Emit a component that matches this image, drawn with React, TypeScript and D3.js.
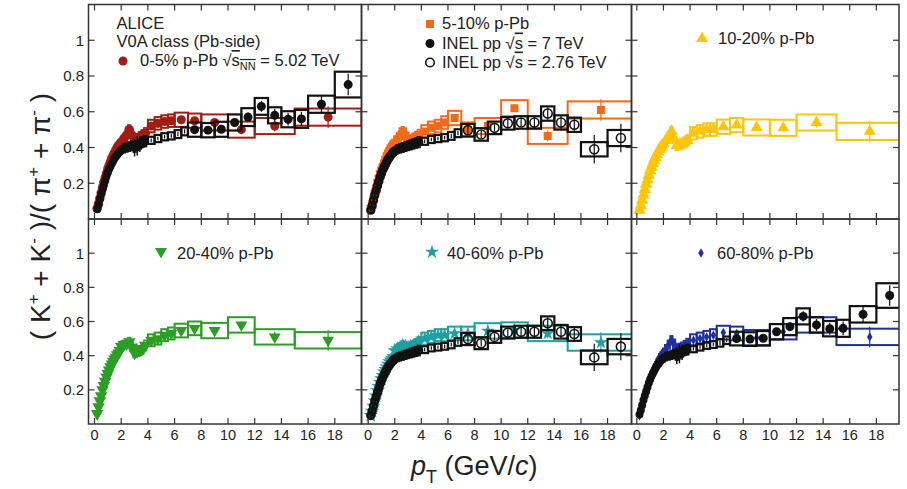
import React from "react";
import * as d3 from "d3";

// ---------- data ----------
const lowPt = [0.2,0.3,0.4,0.5,0.6,0.7,0.8,0.9,1.0,1.1,1.2,1.3,1.4,1.5,1.6,1.7,1.8,1.9,2.0,2.2,2.4,2.6,2.8,3.0,3.2,3.4,3.6,3.8];
const lowLo = [0.15,0.25,0.35,0.45,0.55,0.65,0.75,0.85,0.95,1.05,1.15,1.25,1.35,1.45,1.55,1.65,1.75,1.85,1.95,2.1,2.3,2.5,2.7,2.9,3.1,3.3,3.5,3.7];
const lowHi = [0.25,0.35,0.45,0.55,0.65,0.75,0.85,0.95,1.05,1.15,1.25,1.35,1.45,1.55,1.65,1.75,1.85,1.95,2.1,2.3,2.5,2.7,2.9,3.1,3.3,3.5,3.7,3.9];
const lowSys = [0.005,0.006,0.008,0.01,0.011,0.012,0.013,0.014,0.015,0.016,0.017,0.018,0.019,0.02,0.02,0.021,0.022,0.022,0.023,0.024,0.025,0.026,0.026,0.026,0.027,0.028,0.028,0.03];

const ppbPt = [4.25,4.75,5.25,5.75,6.5,7.5,9,11,13.5,17.5];
const ppbLo = [4,4.5,5,5.5,6,7,8,10,12,15];
const ppbHi = [4.5,5,5.5,6,7,8,10,12,15,20];
const ppbStat = [0.005,0.005,0.006,0.007,0.008,0.01,0.012,0.02,0.03,0.06];
const ppbSys = [0.035,0.035,0.035,0.035,0.04,0.04,0.045,0.045,0.045,0.048];

const low0to5 = [0.06,0.085,0.115,0.145,0.175,0.205,0.23,0.255,0.28,0.30,0.32,0.34,0.355,0.37,0.385,0.40,0.41,0.42,0.43,0.45,0.47,0.5,0.47,0.44,0.45,0.46,0.47,0.48];
const high0to5 = [0.52,0.535,0.545,0.55,0.555,0.55,0.54,0.50,0.52,0.57];
const low5to10 = [0.055,0.08,0.11,0.14,0.17,0.2,0.225,0.25,0.27,0.29,0.31,0.33,0.35,0.365,0.38,0.395,0.405,0.415,0.425,0.445,0.465,0.49,0.465,0.435,0.44,0.45,0.46,0.47];
const high5to10 = [0.49,0.51,0.52,0.54,0.565,0.50,0.52,0.62,0.465,0.61];
const low10to20 = [0.05,0.075,0.105,0.135,0.165,0.195,0.22,0.245,0.27,0.29,0.31,0.33,0.345,0.36,0.375,0.39,0.40,0.41,0.42,0.44,0.46,0.49,0.45,0.41,0.415,0.42,0.43,0.44];
const high10to20 = [0.48,0.49,0.50,0.50,0.516,0.525,0.512,0.51,0.54,0.49];
const low20to40 = [0.06,0.1,0.135,0.165,0.2,0.225,0.25,0.275,0.295,0.315,0.335,0.35,0.365,0.38,0.39,0.405,0.415,0.43,0.455,0.465,0.47,0.48,0.45,0.415,0.425,0.43,0.44,0.46];
const high20to40 = [0.49,0.50,0.52,0.53,0.547,0.56,0.547,0.58,0.51,0.49];
const low40to60 = [0.05,0.075,0.105,0.135,0.165,0.195,0.22,0.245,0.265,0.285,0.305,0.32,0.335,0.35,0.365,0.375,0.385,0.395,0.43,0.44,0.45,0.46,0.455,0.45,0.455,0.46,0.47,0.48];
const high40to60 = [0.50,0.51,0.52,0.52,0.53,0.53,0.545,0.55,0.53,0.477];
const low60to80 = [0.05,0.075,0.105,0.135,0.165,0.195,0.22,0.245,0.27,0.29,0.31,0.33,0.345,0.36,0.375,0.39,0.40,0.41,0.42,0.44,0.465,0.49,0.47,0.44,0.445,0.45,0.46,0.47];
const high60to80 = [0.49,0.50,0.51,0.52,0.535,0.53,0.505,0.54,0.58,0.51];

const ppPt = [4.25,4.75,5.25,5.75,6.25,6.75,7.5,8.5,9.5,10.5,11.5,12.5,13.5,14.5,15.5,17,19];
const ppLo = [4,4.5,5,5.5,6,6.5,7,8,9,10,11,12,13,14,15,16,18];
const ppHi = [4.5,5,5.5,6,6.5,7,8,9,10,11,12,13,14,15,16,18,20];

const lowPP7 = [0.055,0.08,0.11,0.14,0.165,0.19,0.215,0.24,0.26,0.28,0.295,0.31,0.325,0.34,0.35,0.36,0.37,0.38,0.385,0.395,0.40,0.405,0.41,0.40,0.41,0.42,0.43,0.435];
const lowStatPP7 = [0,0,0,0,0,0,0,0,0,0,0,0,0,0,0,0,0,0,0,0,0,0,0.01,0.05,0.055,0.045,0.035,0.03];
const highPP7 = [0.44,0.45,0.46,0.465,0.475,0.49,0.50,0.497,0.502,0.54,0.57,0.63,0.58,0.558,0.56,0.642,0.752];
const statPP7 = [0.01,0.01,0.01,0.01,0.012,0.012,0.015,0.015,0.02,0.02,0.025,0.03,0.035,0.035,0.04,0.05,0.06];
const sysPP7 = [0.02,0.02,0.02,0.02,0.022,0.022,0.04,0.04,0.042,0.045,0.05,0.047,0.045,0.045,0.05,0.048,0.072];

const lowPP276 = [0.05,0.075,0.105,0.135,0.16,0.185,0.21,0.235,0.255,0.275,0.29,0.305,0.32,0.335,0.345,0.355,0.365,0.375,0.38,0.39,0.395,0.40,0.405,0.41,0.415,0.42,0.425,0.43];
const highPP276 = [0.435,0.445,0.45,0.455,0.465,0.48,0.497,0.473,0.51,0.535,0.54,0.54,0.59,0.54,0.527,0.39,0.453];
const statPP276 = [0.01,0.01,0.01,0.01,0.012,0.012,0.02,0.02,0.02,0.02,0.025,0.03,0.035,0.04,0.045,0.08,0.08];
const sysPP276 = [0.02,0.02,0.02,0.02,0.022,0.022,0.035,0.035,0.035,0.035,0.035,0.035,0.04,0.04,0.04,0.04,0.045];

const xTicks = [0,2,4,6,8,10,12,14,16,18];
const yTicks = [0.2,0.4,0.6,0.8,1];

// ---------- layout / style ----------
const W = 907, H = 489;
const colX = [88.5, 361.5, 631.5, 899];
const rowY = [4.5, 219, 424];
const xDomains = [[-0.45, 20], [-0.5, 19.8], [-0.4, 19.7]];
const FONT = "'Liberation Sans', Arial, Helvetica, sans-serif";

const shapeType: Record<string, any> = {
  circle: d3.symbolCircle, square: d3.symbolSquare, triangle: d3.symbolTriangle,
  down: d3.symbolTriangle, star: d3.symbolStar, diamond: d3.symbolDiamond,
};
const shapeSize: Record<string, number> = { circle: 64, square: 64, triangle: 62, down: 62, star: 60, diamond: 26 };

function Marker({ x, y, shape, color, scale = 1, open = false }: any) {
  const p = d3.symbol().type(shapeType[shape]).size(shapeSize[shape] * scale * scale)() as string;
  const rot = shape === "down" ? " rotate(180)" : "";
  return (
    <path d={p} transform={`translate(${x},${y})${rot}`}
      fill={open ? "none" : color} stroke={open ? color : "none"} strokeWidth={open ? 1.6 : 0} />
  );
}

const ppbSeries = [
  { label: "0-5% p-Pb", color: "#a01c14", shape: "circle", low: low0to5, high: high0to5 },
  { label: "5-10% p-Pb", color: "#f7671a", shape: "square", low: low5to10, high: high5to10 },
  { label: "10-20% p-Pb", color: "#ffc50a", shape: "triangle", low: low10to20, high: high10to20 },
  { label: "20-40% p-Pb", color: "#2c9e26", shape: "down", low: low20to40, high: high20to40 },
  { label: "40-60% p-Pb", color: "#1e9fa0", shape: "star", low: low40to60, high: high40to60 },
  { label: "60-80% p-Pb", color: "#1f2f9c", shape: "diamond", low: low60to80, high: high60to80 },
];
const ppSeries: Record<string, any> = {
  pp7: { low: lowPP7, lowStat: lowStatPP7, high: highPP7, stat: statPP7, sys: sysPP7, open: false },
  pp276: { low: lowPP276, lowStat: lowPP276.map(() => 0), high: highPP276, stat: statPP276, sys: sysPP276, open: true },
};
const panelPP = ["pp7", "pp276", null, null, "pp276", "pp7"];

function Panel({ idx }: { idx: number }) {
  const col = idx % 3, row = Math.floor(idx / 3);
  const x0 = colX[col], x1 = colX[col + 1], y0 = rowY[row], y1 = rowY[row + 1];
  const x = d3.scaleLinear().domain(xDomains[col]).range([x0, x1]);
  const y = d3.scaleLinear().domain([0, 1.2]).range([y1, y0]);
  const s = ppbSeries[idx];
  const ppKey = panelPP[idx];
  const pp = ppKey ? ppSeries[ppKey] : null;
  const clipId = `clip${idx}`;
  const tl = 6;
  const box = (lo: number, hi: number, v: number, e: number) => ({
    x: x(lo), y: y(v + e), width: x(hi) - x(lo), height: y(v - e) - y(v + e),
  });
  return (
    <g>
      <defs>
        <clipPath id={clipId}><rect x={x0} y={y0} width={x1 - x0} height={y1 - y0} /></clipPath>
      </defs>
      <g clipPath={`url(#${clipId})`}>
        {/* p-Pb low-pT systematic boxes */}
        {lowPt.map((p, i) => (
          <rect key={"lb" + i} {...box(lowLo[i], lowHi[i], s.low[i], lowSys[i])}
            fill="none" stroke={s.color} strokeWidth={1.5} />
        ))}
        {/* p-Pb systematic boxes */}
        {ppbPt.map((p, i) => (
          <rect key={"pb" + i} {...box(ppbLo[i], ppbHi[i], s.high[i], ppbSys[i])}
            fill="none" stroke={s.color} strokeWidth={2} />
        ))}
        {ppbPt.map((p, i) => (
          <line key={"pe" + i} x1={x(p)} x2={x(p)} y1={y(s.high[i] - ppbStat[i])} y2={y(s.high[i] + ppbStat[i])}
            stroke={s.color} strokeWidth={1.2} />
        ))}
        {lowPt.map((p, i) => (
          <Marker key={"pl" + i} x={x(p)} y={y(s.low[i])} shape={s.shape} color={s.color} scale={1.05} />
        ))}
        {ppbPt.map((p, i) => (
          <Marker key={"ph" + i} x={x(p)} y={y(s.high[i])} shape={s.shape} color={s.color} />
        ))}
        {pp && (
          <g>
            {lowPt.map((p, i) => (
              <rect key={"qlb" + i} {...box(lowLo[i], lowHi[i], pp.low[i], lowSys[i])}
                fill="none" stroke="#111" strokeWidth={1.5} />
            ))}
            {ppPt.map((p, i) => (
              <rect key={"qb" + i} {...box(ppLo[i], ppHi[i], pp.high[i], pp.sys[i])}
                fill="none" stroke="#111" strokeWidth={2.2} />
            ))}
            {ppPt.map((p, i) => (
              <line key={"qe" + i} x1={x(p)} x2={x(p)} y1={y(pp.high[i] - pp.stat[i])} y2={y(pp.high[i] + pp.stat[i])}
                stroke="#111" strokeWidth={1.2} />
            ))}
            {lowPt.map((p, i) => pp.lowStat[i] > 0 ? (
              <line key={"ql" + i} x1={x(p)} x2={x(p)} y1={y(pp.low[i] - pp.lowStat[i])} y2={y(pp.low[i] + pp.lowStat[i])}
                stroke="#111" strokeWidth={1.5} />
            ) : null)}
            {lowPt.map((p, i) => (
              <circle key={"qm" + i} cx={x(p)} cy={y(pp.low[i])} r={pp.open ? 3.4 : 4}
                fill={pp.open ? "none" : "#111"} stroke="#111" strokeWidth={pp.open ? 2.6 : 0} />
            ))}
            {ppPt.map((p, i) => (
              <circle key={"qh" + i} cx={x(p)} cy={y(pp.high[i])} r={i < 6 ? 0 : 4.5}
                fill={pp.open ? "none" : "#111"} stroke="#111" strokeWidth={pp.open ? 1.6 : 0} />
            ))}
          </g>
        )}
      </g>
      {/* frame */}
      <rect x={x0} y={y0} width={x1 - x0} height={y1 - y0} fill="none" stroke="#333" strokeWidth={1.5} />
      {/* ticks */}
      {xTicks.map((t) => (
        <g key={"xt" + t}>
          <line x1={x(t)} x2={x(t)} y1={y1} y2={y1 - tl} stroke="#333" strokeWidth={1.2} />
          <line x1={x(t)} x2={x(t)} y1={y0} y2={y0 + tl} stroke="#333" strokeWidth={1.2} />
          {row === 1 && (
            <text x={x(t)} y={440} textAnchor="middle" fontSize={14.5} fontFamily={FONT} fill="#222">{t}</text>
          )}
        </g>
      ))}
      {yTicks.map((t) => (
        <g key={"yt" + t}>
          <line x1={x0} x2={x0 + tl} y1={y(t)} y2={y(t)} stroke="#333" strokeWidth={1.2} />
          <line x1={x1} x2={x1 - tl} y1={y(t)} y2={y(t)} stroke="#333" strokeWidth={1.2} />
          {col === 0 && (
            <text x={84} y={y(t)} dy="0.36em" textAnchor="end" fontSize={15} fontFamily={FONT} fill="#222">{d3.format("~g")(t)}</text>
          )}
        </g>
      ))}
    </g>
  );
}

const legendFont = 16.5;

export default function App() {
  const ov = { textDecoration: "overline" } as any;
  return (
    <svg width={W} height={H} style={{ position: "absolute", left: 0, top: 0, background: "#fff" }}
      fontFamily={FONT}>
      <rect x={0} y={0} width={W} height={H} fill="#fff" />
      {[0, 1, 2, 3, 4, 5].map((i) => <Panel key={i} idx={i} />)}

      {/* Panel 1 legend */}
      <text x={116.5} y={29} fontSize={legendFont} fill="#222">ALICE</text>
      <text x={116.5} y={47} fontSize={legendFont} fill="#222">V0A class (Pb-side)</text>
      <Marker x={123} y={61} shape="circle" color={ppbSeries[0].color} />
      <text x={140} y={66} fontSize={legendFont} fill="#222">
        {ppbSeries[0].label} √<tspan style={ov}>s</tspan><tspan dy={4} fontSize={11} style={ov}>NN</tspan><tspan dy={-4}> = 5.02 TeV</tspan>
      </text>

      {/* Panel 2 legend */}
      <Marker x={430} y={24} shape="square" color={ppbSeries[1].color} />
      <text x={442} y={29} fontSize={legendFont} fill="#222">{ppbSeries[1].label}</text>
      <circle cx={430} cy={43.5} r={4.5} fill="#111" />
      <text x={442} y={48.5} fontSize={legendFont} fill="#222">INEL pp √<tspan style={ov}>s</tspan> = 7 TeV</text>
      <circle cx={430} cy={62.5} r={4.3} fill="none" stroke="#111" strokeWidth={1.6} />
      <text x={442} y={67.5} fontSize={legendFont} fill="#222">INEL pp √<tspan style={ov}>s</tspan> = 2.76 TeV</text>

      {/* Panel 3..6 legends */}
      <Marker x={702} y={38.5} shape="triangle" color={ppbSeries[2].color} />
      <text x={718} y={44} fontSize={legendFont} fill="#222">{ppbSeries[2].label}</text>
      <Marker x={161} y={251.5} shape="down" color={ppbSeries[3].color} />
      <text x={177} y={259} fontSize={legendFont} fill="#222">{ppbSeries[3].label}</text>
      <Marker x={432} y={252} shape="star" color={ppbSeries[4].color} />
      <text x={447} y={259} fontSize={legendFont} fill="#222">{ppbSeries[4].label}</text>
      <Marker x={701} y={253} shape="diamond" color={ppbSeries[5].color} />
      <text x={717} y={259} fontSize={legendFont} fill="#222">{ppbSeries[5].label}</text>

      {/* axis titles */}
      <text transform="translate(50,216.5) rotate(-90)" textAnchor="middle" fontSize={28} fill="#222">
        ( K<tspan dy={-11} fontSize={17}>+</tspan><tspan dy={11}> + K</tspan><tspan dy={-11} fontSize={17}>-</tspan><tspan dy={11}> )/( π</tspan><tspan dy={-11} fontSize={17}>+</tspan><tspan dy={11}> + π</tspan><tspan dy={-11} fontSize={17}>-</tspan><tspan dy={11}> )</tspan>
      </text>
      <text x={411} y={475} fontSize={27} fill="#222">
        <tspan fontStyle="italic">p</tspan><tspan dy={8} fontSize={18}>T</tspan><tspan dy={-8}> (GeV/</tspan><tspan fontStyle="italic">c</tspan>)
      </text>
    </svg>
  );
}
